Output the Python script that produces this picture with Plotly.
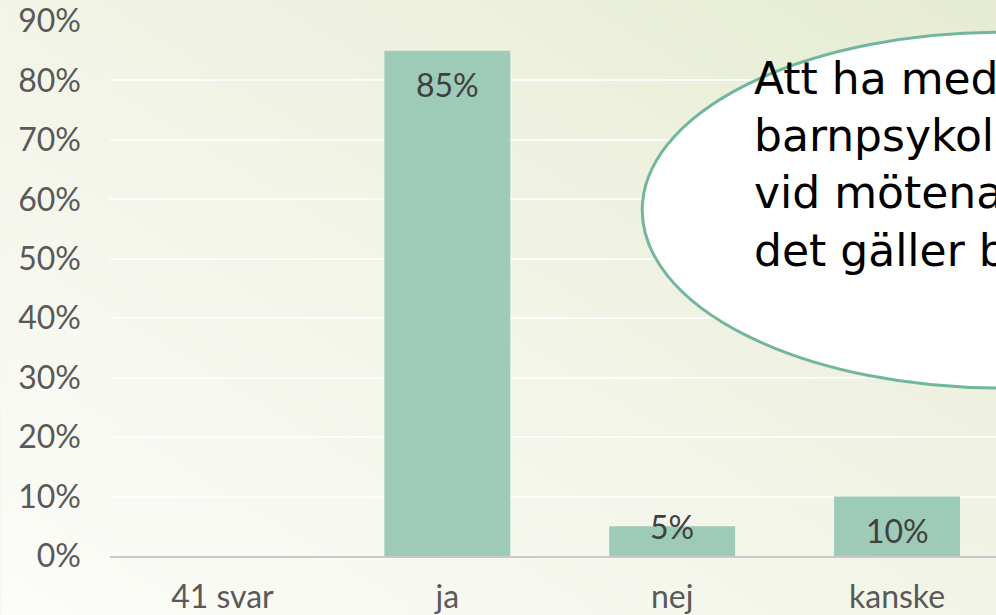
import base64
import plotly.graph_objects as go

categories = ["41 svar", "ja", "nej", "kanske"]
values = [0.0, 0.85, 0.05, 0.10]
labels = ["", "85%", "5%", "10%"]
y_ticks = [0, 0.1, 0.2, 0.3, 0.4, 0.5, 0.6, 0.7, 0.8, 0.9]
y_tick_text = ["0%", "10%", "20%", "30%", "40%", "50%", "60%", "70%", "80%", "90%"]
bubble_lines = ["Att ha med en", "barnpsykolog", "vid mötena när", "det gäller barn"]

FONT = "Lato"
BUBBLE_FONT = "DejaVu Sans"
BAR = "#9ecbb7"

svg = """<svg xmlns='http://www.w3.org/2000/svg' width='996' height='615' preserveAspectRatio='none'>
<defs><linearGradient id='g' x1='0' y1='1' x2='1' y2='0'>
<stop offset='0' stop-color='#fcfcf9'/>
<stop offset='0.45' stop-color='#f3f5e9'/>
<stop offset='1' stop-color='#e6ecd1'/>
</linearGradient></defs>
<rect width='996' height='615' fill='url(#g)'/></svg>"""
bg_uri = "data:image/svg+xml;base64," + base64.b64encode(svg.encode()).decode()

fig = go.Figure()
fig.add_trace(go.Bar(
    x=categories, y=values, marker=dict(color=BAR, line=dict(width=0)),
    width=0.56, hoverinfo="skip",
))

for c, v, t in zip(categories, values, labels):
    if not t:
        continue
    small = v < 0.08
    fig.add_annotation(
        x=c, y=v, xref="x", yref="y", text=t, showarrow=False,
        yanchor="middle" if small else "top",
        yshift=0 if small else -12,
        font=dict(family=FONT, size=32, color="#404040"),
    )

fig.add_shape(
    type="circle", xref="paper", yref="paper",
    x0=0.6007, x1=1.41, y0=0.314, y1=0.979,
    fillcolor="white", line=dict(color="#72b79d", width=3), layer="above",
)
fig.add_annotation(
    xref="paper", yref="paper", x=0.7248, y=0.943, xanchor="left", yanchor="top",
    text="<br>".join(bubble_lines), align="left", showarrow=False,
    font=dict(family=BUBBLE_FONT, size=44, color="#000000"),
)

fig.update_layout(
    width=996, height=615,
    margin=dict(l=109.5, r=0, t=21, b=59),
    paper_bgcolor="#f4f6ec", plot_bgcolor="rgba(0,0,0,0)",
    showlegend=False, bargap=0.44,
    images=[dict(source=bg_uri, xref="paper", yref="paper", x=-0.1236, y=1.0393,
                 sizex=1.1236, sizey=1.1495, sizing="stretch", layer="below",
                 xanchor="left", yanchor="top")],
    xaxis=dict(
        range=[-0.5, 3.44], showline=True, linecolor="#c9c9c9", linewidth=2,
        showgrid=False, ticks="", ticklabelstandoff=12,
        tickfont=dict(family=FONT, size=32, color="#595959"), fixedrange=True,
    ),
    yaxis=dict(
        range=[0, 0.9], tickvals=y_ticks, ticktext=y_tick_text,
        showgrid=True, gridcolor="rgba(255,255,255,0.75)", gridwidth=2,
        zeroline=False, showline=False, ticks="", ticklabelstandoff=28,
        tickfont=dict(family=FONT, size=32, color="#595959"), fixedrange=True,
    ),
)

fig.write_html(
    "out.html",
    config={"displayModeBar": False},
    post_script="document.body.style.margin='0';document.body.style.overflow='hidden';",
)
